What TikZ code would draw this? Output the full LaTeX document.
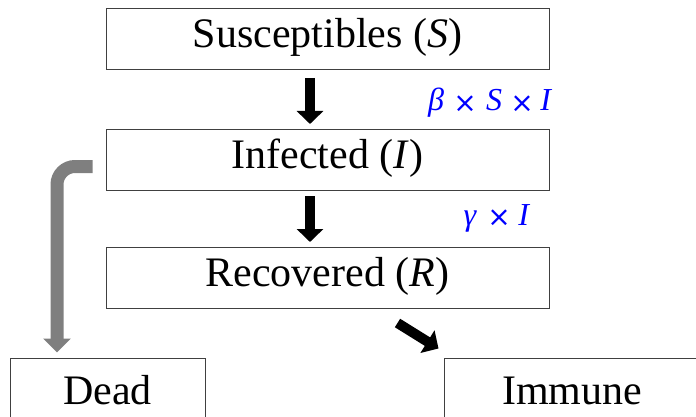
\documentclass[tikz,border=0pt]{standalone}
\usepackage{fontspec}
\setmainfont{Liberation Serif}
\newfontfamily\symfont{DejaVu Sans}
\usetikzlibrary{arrows.meta}
\definecolor{boxline}{HTML}{404040}
\definecolor{deadgray}{HTML}{7F7F7F}
\definecolor{rateblue}{HTML}{0000FF}
\newcommand{\bigtimes}{{\symfont\fontsize{28}{28}\selectfont\raisebox{-1.5pt}{×}}}
\newcommand{\glyphat}[1]{\makebox[0pt][c]{#1}}
\begin{document}
\begin{tikzpicture}[x=1pt,y=-1pt,
  box/.style={draw=boxline, line width=1pt, fill=white, inner sep=0pt,
    minimum height=61pt, text height=26pt, text depth=9pt,
    font=\fontsize{42}{48}\selectfont},
  blockarrow/.style={line width=10pt, black,
    -{Triangle[width=26pt,length=13pt]}},
  grayarrow/.style={line width=13pt, deadgray, rounded corners=18pt,
    -{Triangle[width=27pt,length=14pt]}},
  rate/.style={text=rateblue, inner sep=0pt, font=\fontsize{32}{36}\selectfont}]
\clip (0,0) rectangle (696,417);
\useasboundingbox (0,0) rectangle (696,417);
\node[box, minimum width=443pt] (S) at (327.5,39) {Susceptibles (\textit{S})};
\node[box, minimum width=443pt] (I) at (327.5,160) {Infected (\textit{I})};
\node[box, minimum width=443pt] (R) at (327.5,278) {Recovered (\textit{R})};
\node[box, minimum width=195pt, minimum height=76pt] (D) at (107.5,396) {Dead};
\node[box, minimum width=256pt, minimum height=76pt] (M) at (572,396) {Immune};
\draw[blockarrow] ([xshift=-17.5pt,yshift=-8pt]S.south) -- ([xshift=-17.5pt,yshift=5pt]I.north);
\draw[blockarrow] ([xshift=-17.5pt,yshift=-5pt]I.south) -- ([xshift=-17.5pt,yshift=5pt]R.north);
\draw[blockarrow] ([xshift=70pt,yshift=-14pt]R.south) -- ([xshift=-5pt,yshift=9pt]M.north west);
\draw[grayarrow] ([xshift=-13pt,yshift=-6.5pt]I.west) -| ([xshift=-50.5pt,yshift=5pt]D.north);
\node[rate, anchor=base west] (b) at (436,111) {\glyphat{\textit{β}}\hspace{29pt}\glyphat{\bigtimes}\hspace{29pt}\glyphat{\textit{S}}\hspace{28pt}\glyphat{\bigtimes}\hspace{24pt}\glyphat{\textit{I}}};
\node[rate, anchor=base west] (g) at (470,225) {\glyphat{\textit{γ}}\hspace{29pt}\glyphat{\bigtimes}\hspace{25pt}\glyphat{\textit{I}}};
\end{tikzpicture}
\end{document}
